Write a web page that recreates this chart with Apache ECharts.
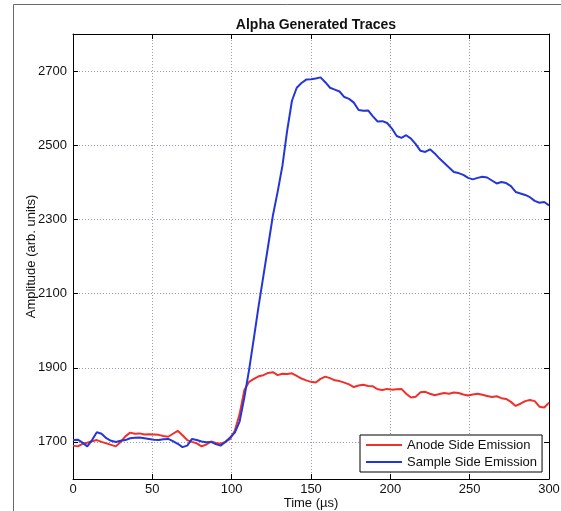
<!DOCTYPE html>
<html>
<head>
<meta charset="utf-8">
<script src="https://cdn.jsdelivr.net/npm/echarts@6/dist/echarts.min.js"></script>
<style>html,body{margin:0;padding:0;background:#fff}#c{width:561px;height:511px}</style>
</head>
<body>
<div id="c"></div>
<script>
const titleText = 'Alpha Generated Traces';
const xName = 'Time (µs)';
const yName = 'Amplitude (arb. units)';
const seriesNames = ['Anode Side Emission', 'Sample Side Emission'];
const yTicks = [1700, 1900, 2100, 2300, 2500, 2700];
const time = [];
for (let t = 0; t <= 300; t += 3) time.push(t);
const anode = [
1690,1688,1695,1698,1702,1705,1700,1696,1692,1688,
1700,1715,1725,1722,1723,1720,1721,1720,1719,1716,
1714,1722,1730,1718,1705,1700,1696,1688,1693,1701,
1697,1695,1700,1708,1730,1775,1840,1862,1870,1877,
1880,1886,1888,1880,1884,1883,1885,1878,1871,1866,
1862,1860,1870,1876,1872,1866,1864,1860,1855,1848,
1852,1854,1851,1850,1842,1840,1843,1841,1842,1843,
1830,1820,1822,1834,1835,1830,1826,1829,1832,1830,
1833,1832,1828,1825,1828,1830,1827,1824,1821,1823,
1818,1816,1808,1797,1803,1810,1813,1810,1795,1793,
1806];
const sample = [
1705,1706,1698,1688,1705,1726,1722,1710,1703,1700,
1703,1705,1710,1711,1712,1710,1708,1706,1705,1707,
1708,1702,1695,1686,1690,1708,1705,1701,1699,1700,
1694,1690,1700,1712,1725,1755,1820,1895,1980,2067,
2148,2229,2311,2375,2445,2540,2620,2655,2668,2677,
2678,2680,2683,2670,2655,2650,2645,2630,2625,2615,
2595,2593,2594,2578,2564,2565,2560,2545,2525,2520,
2527,2518,2503,2485,2482,2489,2478,2464,2452,2440,
2428,2425,2420,2412,2408,2412,2415,2413,2405,2397,
2401,2398,2390,2374,2370,2366,2360,2350,2345,2347,
2338];

const font = 'Liberation Sans, Arial, sans-serif';
const chart = echarts.init(document.getElementById('c'), null, {renderer: 'canvas'});
const axisLine = {show: true, onZero: false, lineStyle: {color: '#000', width: 1}};
const tick = {show: true, inside: true, length: 5, lineStyle: {color: '#000'}};
const grid = {show: true, lineStyle: {color: '#9a9aa8', type: [1, 2], width: 1}};
const plain = v => String(v);
chart.setOption({
  animation: false,
  backgroundColor: '#fff',
  graphic: [{type: 'rect', shape: {x: 13.5, y: 4.5, width: 700, height: 700}, style: {fill: 'none', stroke: '#6a6a6a', lineWidth: 1}, silent: true, z: -10}],
  title: {text: titleText, left: 311, top: 13, textAlign: 'center',
    textStyle: {fontFamily: font, fontSize: 14, fontWeight: 'bold', color: '#111'}},
  grid: {left: 73, top: 34, right: 12, bottom: 32, containLabel: false, outerBoundsMode: 'none'},
  legend: {
    data: seriesNames.map(n => ({name: n, icon: 'path://M0,0L36,0L36,2L0,2Z'})),
    orient: 'vertical', left: 360, top: 435,
    padding: [3, 5, 3, 6], itemGap: 3, itemWidth: 36, itemHeight: 2,
    backgroundColor: '#fff', borderColor: '#000', borderWidth: 1,
    textStyle: {fontFamily: font, fontSize: 13, color: '#111', lineHeight: 14}
  },
  xAxis: [
    {type: 'value', min: 0, max: 300, interval: 50, position: 'bottom',
      name: xName, nameLocation: 'middle', nameGap: 18, nameMoveOverlap: false,
      nameTextStyle: {fontFamily: font, fontSize: 13, color: '#111'},
      axisLine: axisLine, axisTick: tick, splitLine: grid,
      axisLabel: {fontFamily: font, fontSize: 13, color: '#111', margin: 4, formatter: plain}},
    {type: 'value', min: 0, max: 300, interval: 50, position: 'top',
      axisLine: axisLine, axisTick: tick, splitLine: {show: false}, axisLabel: {show: false}}
  ],
  yAxis: [
    {type: 'value', min: 1600, max: 2800, position: 'left',
      name: yName, nameLocation: 'middle', nameGap: 35, nameRotate: 90, nameMoveOverlap: false,
      nameTextStyle: {fontFamily: font, fontSize: 13, color: '#111'},
      axisLine: axisLine,
      axisTick: Object.assign({customValues: yTicks}, tick),
      splitLine: grid,
      axisLabel: {customValues: yTicks, fontFamily: font, fontSize: 13, color: '#111', margin: 6, formatter: plain}},
    {type: 'value', min: 1600, max: 2800, position: 'right',
      axisLine: axisLine,
      axisTick: Object.assign({customValues: yTicks}, tick),
      splitLine: {show: false}, axisLabel: {show: false, customValues: yTicks}}
  ],
  series: [
    {name: seriesNames[0], type: 'line', showSymbol: false, symbol: 'none',
      data: time.map((t, i) => [t, anode[i]]),
      lineStyle: {color: '#f0302a', width: 2}, itemStyle: {color: '#f0302a'}},
    {name: seriesNames[1], type: 'line', showSymbol: false, symbol: 'none',
      data: time.map((t, i) => [t, sample[i]]),
      lineStyle: {color: '#2436d8', width: 2}, itemStyle: {color: '#2436d8'}}
  ]
});
</script>
</body>
</html>
